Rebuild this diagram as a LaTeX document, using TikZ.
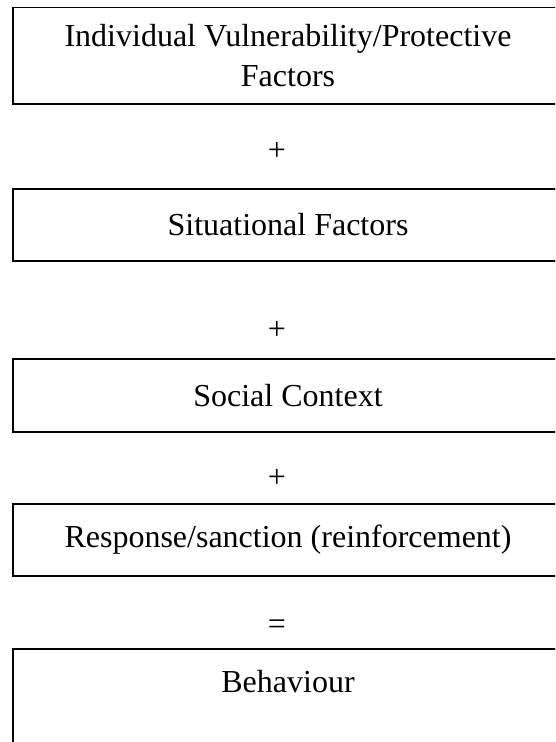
\documentclass[tikz,border=0pt]{standalone}
\usepackage{fontspec}
\setmainfont{Liberation Serif}
\usetikzlibrary{positioning}

\begin{document}
\begin{tikzpicture}[
			x=0.375pt, y=-0.375pt,
			factor/.style={rectangle, draw, line width=0.6pt, minimum width=206.25pt, minimum height=27pt, inner sep=0pt, align=center, font=\fontsize{12}{15}\selectfont},
			sign/.style={inner sep=0pt, font=\fontsize{12}{15}\selectfont}
			]
			\clip (0,0) rectangle (555,742);
			\node[factor, minimum height=36.3pt] (indiv) at (288,55.7) {Individual Vulnerability/Protective \\ Factors};
			\node[sign] (plusA) at (277,151) {+};
			\node[factor] (situ) at (288,225) {Situational Factors};
			\node[sign] (plusB) at (277,330) {+};
			\node[factor, minimum height=27.4pt] (social) at (288,395.5) {Social Context};
			\node[sign] (plusC) at (277,478) {+};
			\node[factor] (resp) at (288,540) {Response/sanction (reinforcement)};
			\node[sign] (equal) at (277,627) {=};
			\node[factor, anchor=north, text height=16.5pt, text depth=40pt] (behav) at (288,648) {Behaviour};
		\end{tikzpicture}
\end{document}
